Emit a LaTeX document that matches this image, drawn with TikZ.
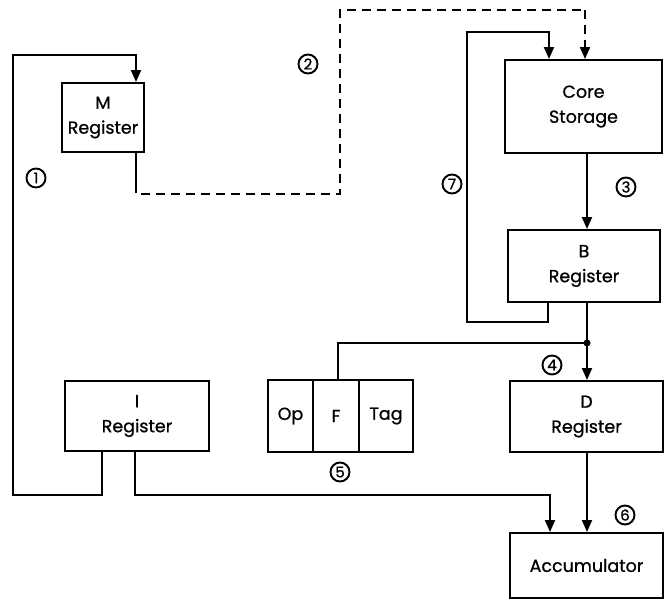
\documentclass[tikz,border=0pt]{standalone}
\usepackage{fontspec}
\setmainfont{Poppins}[FakeBold=0.8]
\usetikzlibrary{arrows.meta,calc}
\begin{document}
\begin{tikzpicture}[x=1pt,y=-1pt,
  box/.style={draw,line width=2pt,align=center,inner sep=0pt,font=\fontsize{17.5}{25}\selectfont},
  conn/.style={line width=2pt},
  arr/.style={conn,-{Triangle[length=12pt,width=10pt]}},
  dashconn/.style={conn,dash pattern=on 9pt off 6pt},
  num/.style={draw,circle,line width=1.9pt,inner sep=0pt,minimum size=19pt,font=\fontsize{15}{15}\selectfont}]
\useasboundingbox (0,0) rectangle (664,600);
% boxes
\node[box,minimum width=82pt,minimum height=69pt] (M) at (103,117.5) {M\\Register};
\node[box,minimum width=157pt,minimum height=93pt] (Core) at (583.5,106.5) {Core\\Storage};
\node[box,minimum width=152pt,minimum height=72pt] (B) at (584,266) {B\\Register};
\node[box,minimum width=153pt,minimum height=71pt] (D) at (586.5,416.5) {D\\Register};
\node[box,minimum width=153pt,minimum height=65pt] (Acc) at (586.5,565.5) {Accumulator};
\node[box,minimum width=144pt,minimum height=70pt] (I) at (137,416) {I\\Register};
\node[box,minimum width=45pt,minimum height=72pt] (Op) at (290.5,416) {Op};
\node[box,minimum width=46pt,minimum height=72pt] (F) at (336,416) {F};
\node[box,minimum width=54pt,minimum height=72pt] (Tag) at (386,416) {Tag};
% bend coordinates
\coordinate (c1a) at (102,495);
\coordinate (c1b) at (13,55);
\coordinate (c1c) at (136,55);
\coordinate (c2a) at (136,194);
\coordinate (c2b) at (340,10);
\coordinate (c2c) at (585,10);
\coordinate (col) at (587,0);
\coordinate (c7a) at (548,322);
\coordinate (c7b) at (467,32);
\coordinate (c7c) at (549,32);
\coordinate (c5) at (338,343);
\coordinate (cI) at (135,495);
\coordinate (cA) at (550,495);
\coordinate (jn) at (587,343);
% path 1
\draw[arr] (I.south -| c1a) -- (c1a) -| (c1b) -- (c1c) -- (M.north -| c1c);
% path 2 (dashed)
\draw[conn] (M.south -| c2a) -- ($(c2a)+(0,-10)$);
\draw[dashconn] ($(c2a)+(0,-10)$) -- (c2a) -| (c2b) -- (c2c);
\draw[dashconn,-{Triangle[length=12pt,width=10pt]}] (c2c) -- (Core.north -| c2c);
% path 3
\draw[arr] (Core.south -| col) -- (B.north -| col);
% path 7
\draw[arr] (B.south -| c7a) -- (c7a) -| (c7b) -- (c7c) -- (Core.north -| c7c);
% path 4
\draw[arr] (B.south -| col) -- (D.north -| col);
\fill (jn) circle (3.5pt);
\draw[conn] (jn) -- (c5) -- (F.north -| c5);
% path 6
\draw[arr] (D.south -| col) -- (Acc.north -| col);
% path from I to Acc
\draw[arr] (I.south -| cI) -- (cI) -- (cA) -- (Acc.north -| cA);
% numbers
\node[num] (n1) at (36,178) {1};
\node[num] (n2) at (308,64) {2};
\node[num] (n3) at (626,187) {3};
\node[num] (n4) at (552,365) {4};
\node[num] (n5) at (340,472) {5};
\node[num] (n6) at (625,515) {6};
\node[num] (n7) at (452,184) {7};
\end{tikzpicture}
\end{document}
